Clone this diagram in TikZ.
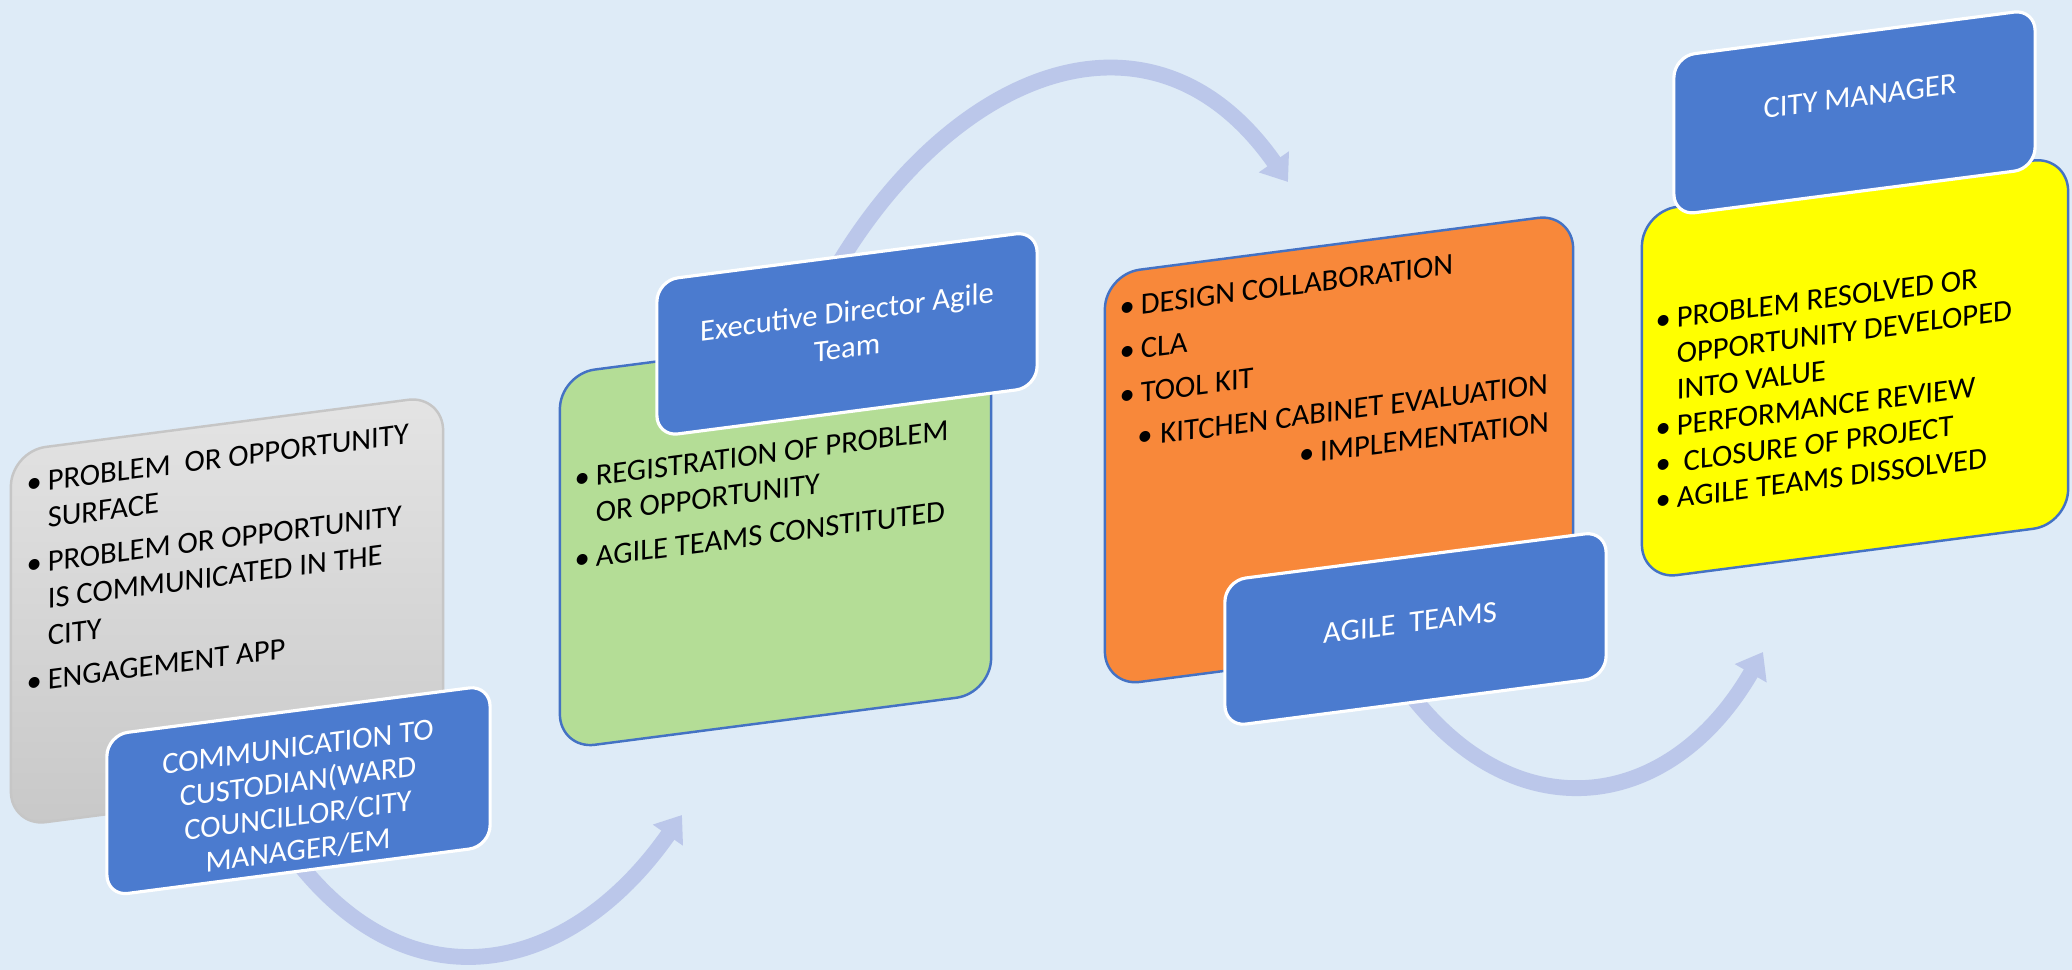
\documentclass[tikz,border=0pt]{standalone}
\usepackage{fontspec}
\setmainfont{Carlito}
\usetikzlibrary{arrows.meta}
\definecolor{bgblue}{RGB}{222,235,247}
\definecolor{headblue}{RGB}{75,123,207}
\definecolor{flowblue}{RGB}{187,199,234}
\definecolor{boxline}{RGB}{68,114,196}
\definecolor{regreen}{RGB}{180,221,150}
\definecolor{desorange}{RGB}{248,136,58}
\definecolor{resyellow}{RGB}{255,255,0}
\definecolor{graytop}{RGB}{228,228,228}
\definecolor{graybot}{RGB}{200,200,200}
\newcommand{\listfont}{\fontsize{8.7}{10.5}\selectfont}
\newcommand{\yelfont}{\fontsize{8.7}{10.25}\selectfont}
\newcommand{\headfont}{\fontsize{8.7}{9.8}\selectfont}
\newcommand{\itm}{\makebox[6pt][l]{\textbullet}}
\newcommand{\listind}{\hspace*{6pt}}
\tikzset{
  bigbox/.style={draw=boxline, line width=0.7pt, rounded corners=10pt, transform shape, inner sep=0pt},
  headbox/.style={fill=headblue, draw=white, line width=0.9pt, rounded corners=6pt, transform shape, inner sep=0pt},
  bullets/.style={text=black, align=left, anchor=base west, inner sep=0pt, transform shape, font=\listfont},
  headtext/.style={text=white, align=center, anchor=base, inner sep=0pt, transform shape, font=\headfont},
  flow/.style={draw=flowblue, line width=4.5pt, -{Triangle[length=7pt,width=10pt]}}
}
\begin{document}
\begin{tikzpicture}[x=0.01cm,y=0.01cm]
\useasboundingbox (0,0) rectangle (2072,970);
\fill[bgblue] (0,0) rectangle (2072,970);
%%%%%%%%%%%%%%%%
\coordinate (flowAs) at (285,125);
\coordinate (flowAe) at (682,155);
\draw[flow] (flowAs) to[out=-55,in=-125,looseness=1.3] (flowAe);
%%%%%%%%%%%%%%%%
\coordinate (flowBs) at (832,695);
\coordinate (flowBe) at (1288,788);
\draw[flow] (flowBs) to[out=60,in=125,looseness=1.3] (flowBe);
%%%%%%%%%%%%%%%%
\coordinate (flowCs) at (1400,290);
\coordinate (flowCe) at (1763,318);
\draw[flow] (flowCs) to[out=-55,in=-120,looseness=1.33] (flowCe);
%%%%%%%%%%%%%%%%
% text nodes sit on the baseline of their last line
\begin{scope}[yslant=0.13]
\node[bigbox, draw=gray!45, top color=graytop, bottom color=graybot, minimum width=4.32cm, minimum height=3.75cm] (surface) at (227,329.5) {};
\node[bullets] (surfacetxt) at (26,274.5) {\itm PROBLEM\ \ OR OPPORTUNITY\\ \listind SURFACE\\[2pt] \itm PROBLEM OR OPPORTUNITY\\ \listind IS COMMUNICATED IN THE\\ \listind CITY\\[2pt] \itm ENGAGEMENT APP};
\node[headbox, minimum width=3.83cm, minimum height=1.61cm] (custodian) at (298.5,140.5) {};
\node[headtext] (custodiantxt) at (298,71) {COMMUNICATION TO\\CUSTODIAN(WARD\\COUNCILLOR/CITY\\MANAGER/EM};
%%%%%%%%%%%%%%%%
\node[bigbox, fill=regreen, minimum width=4.31cm, minimum height=3.75cm] (register) at (775.5,335.5) {};
\node[headbox, minimum width=3.80cm, minimum height=1.56cm] (director) at (847,526) {};
\node[headtext, font=\fontsize{8.7}{10.2}\selectfont] (directortxt) at (847,502) {Executive Director Agile\\Team};
\node[bullets] (registertxt) at (574,326) {\itm REGISTRATION OF PROBLEM\\ \listind OR OPPORTUNITY\\[2pt] \itm AGILE TEAMS CONSTITUTED};
%%%%%%%%%%%%%%%%
\node[bigbox, fill=desorange, minimum width=4.68cm, minimum height=4.12cm] (design) at (1339,346) {};
\node[bullets] (designtxt) at (1119,336.5) {\itm DESIGN COLLABORATION\\[2pt] \itm CLA\\[2pt] \itm TOOL KIT\\[2pt] \hspace*{5pt}\itm\hspace{0.6pt}KITCHEN CABINET EVALUATION\\[0.5pt] \hspace*{51pt}\itm IMPLEMENTATION};
\node[headbox, minimum width=3.81cm, minimum height=1.46cm] (teams) at (1415.5,157) {};
\node[headtext] (teamstxt) at (1410,154) {AGILE\ \ TEAMS};
%%%%%%%%%%%%%%%%
\node[bigbox, fill=resyellow, minimum width=4.26cm, minimum height=3.68cm] (closure) at (1855,361) {};
\node[bullets, font=\yelfont] (closuretxt) at (1655,244) {\itm PROBLEM RESOLVED OR\\ \listind OPPORTUNITY DEVELOPED\\ \listind INTO VALUE\\ \itm PERFORMANCE REVIEW\\ \itm\ CLOSURE OF PROJECT\\ \itm AGILE TEAMS DISSOLVED};
\node[headbox, minimum width=3.61cm, minimum height=1.59cm] (manager) at (1854.5,616.5) {};
\node[headtext] (managertxt) at (1860,622) {CITY MANAGER};
\end{scope}
\end{tikzpicture}
\end{document}
